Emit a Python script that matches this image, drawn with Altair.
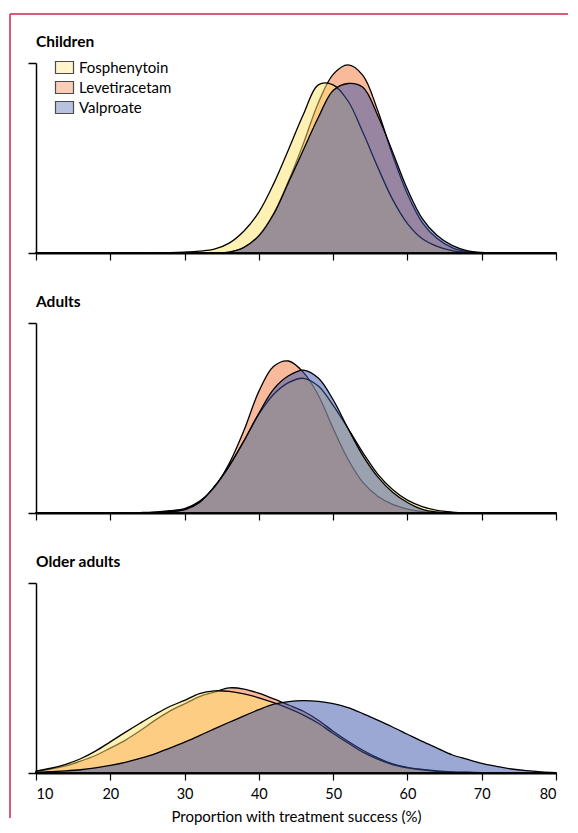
import altair as alt
import pandas as pd

pct = [10, 12, 14, 16, 18, 20, 22, 24, 26, 28, 30, 32, 34, 36, 38, 40, 42, 44,
       46, 48, 50, 52, 54, 56, 58, 60, 62, 64, 66, 68, 70, 72, 74, 76, 78, 80]

drugs = ["Fosphenytoin", "Levetiracetam", "Valproate"]
drug_colors = ["#FFE169", "#F37337", "#3751A9"]
legend_colors = ["#FFF0B4", "#F9B99B", "#9BA8D4"]
draw_order = ["Levetiracetam", "Fosphenytoin", "Valproate"]
panels = ["Children", "Adults", "Older adults"]
x_ticks = [10, 20, 30, 40, 50, 60, 70, 80]
x_title = "Proportion with treatment success (%)"

children_fos = [0, 0, 0, 0, 0, 0, 0, 0, 0.001, 0.002, 0.005, 0.01, 0.02, 0.052, 0.116, 0.215, 0.365, 0.545,
                0.73, 0.885, 0.885, 0.80, 0.635, 0.452, 0.282, 0.155, 0.075, 0.035, 0.012, 0.003, 0.001, 0, 0, 0, 0, 0]
children_lev = [0, 0, 0, 0, 0, 0, 0, 0, 0, 0, 0, 0, 0, 0.005, 0.03, 0.092, 0.209, 0.38,
                0.577, 0.79, 0.94, 0.99, 0.935, 0.75, 0.515, 0.31, 0.16, 0.076, 0.028, 0.007, 0.001, 0, 0, 0, 0, 0]
children_val = [0, 0, 0, 0, 0, 0, 0, 0, 0, 0, 0, 0, 0, 0.005, 0.03, 0.09, 0.205, 0.372,
                0.543, 0.713, 0.855, 0.892, 0.872, 0.724, 0.532, 0.335, 0.181, 0.092, 0.04, 0.013, 0.003, 0, 0, 0, 0, 0]

adults_fos = [0, 0, 0, 0, 0, 0, 0, 0.001, 0.003, 0.007, 0.018, 0.056, 0.138, 0.247, 0.38, 0.52, 0.625, 0.686,
              0.709, 0.668, 0.567, 0.445, 0.318, 0.205, 0.124, 0.068, 0.034, 0.014, 0.005, 0.001, 0, 0, 0, 0, 0, 0]
adults_lev = [0, 0, 0, 0, 0, 0, 0, 0.002, 0.005, 0.012, 0.023, 0.061, 0.133, 0.26, 0.435, 0.64, 0.772, 0.80,
              0.74, 0.62, 0.445, 0.283, 0.161, 0.088, 0.045, 0.021, 0.007, 0.003, 0.001, 0, 0, 0, 0, 0, 0, 0]
adults_val = [0, 0, 0, 0, 0, 0, 0, 0.001, 0.003, 0.007, 0.018, 0.056, 0.138, 0.247, 0.38, 0.525, 0.652, 0.722,
              0.752, 0.71, 0.596, 0.445, 0.302, 0.19, 0.109, 0.055, 0.019, 0.005, 0.001, 0, 0, 0, 0, 0, 0, 0]

older_fos = [0.01, 0.025, 0.046, 0.075, 0.115, 0.164, 0.214, 0.262, 0.308, 0.35, 0.382, 0.418, 0.432, 0.43, 0.417, 0.396, 0.37, 0.34,
             0.305, 0.262, 0.208, 0.158, 0.11, 0.073, 0.044, 0.027, 0.016, 0.009, 0.005, 0.003, 0.001, 0, 0, 0, 0, 0]
older_lev = [0.008, 0.02, 0.037, 0.062, 0.092, 0.131, 0.172, 0.222, 0.277, 0.326, 0.364, 0.402, 0.426, 0.448, 0.442, 0.42, 0.39, 0.358,
             0.325, 0.278, 0.22, 0.167, 0.12, 0.08, 0.048, 0.03, 0.019, 0.011, 0.006, 0.004, 0.002, 0.001, 0, 0, 0, 0]
older_val = [0.003, 0.007, 0.011, 0.017, 0.027, 0.04, 0.056, 0.077, 0.101, 0.131, 0.162, 0.197, 0.232, 0.267, 0.301, 0.333, 0.362, 0.376,
             0.381, 0.377, 0.365, 0.344, 0.313, 0.278, 0.242, 0.204, 0.166, 0.131, 0.096, 0.073, 0.051, 0.035, 0.021, 0.012, 0.006, 0.002]

series = {
    "Children": {"Fosphenytoin": children_fos, "Levetiracetam": children_lev, "Valproate": children_val},
    "Adults": {"Fosphenytoin": adults_fos, "Levetiracetam": adults_lev, "Valproate": adults_val},
    "Older adults": {"Fosphenytoin": older_fos, "Levetiracetam": older_lev, "Valproate": older_val},
}

rows = []
for panel in panels:
    for drug in drugs:
        for p, v in zip(pct, series[panel][drug]):
            rows.append({"panel": panel, "drug": drug, "pct": p, "density": v})
df = pd.DataFrame(rows)

FONT = "Lato"
color_scale = alt.Scale(domain=drugs, range=drug_colors)
x_scale = alt.Scale(domain=[10, 80], nice=False, zero=False)
y_scale = alt.Scale(domain=[0, 1], nice=False)


def panel_chart(panel, bottom):
    x_axis = alt.Axis(values=x_ticks, labels=bottom, tickSize=7, tickWidth=1.2, tickColor="black",
                      domainWidth=2, domainColor="black", grid=False, labelFont=FONT, labelFontSize=14.5,
                      labelColor="black", labelPadding=7, titleFont=FONT, titleFontSize=15,
                      titleFontWeight="normal", titleColor="black", titlePadding=9, zindex=1)
    y_axis = alt.Axis(values=[0, 1], labels=False, tickSize=8, tickWidth=1.5, tickColor="black",
                      domainWidth=1.5, domainColor="black", grid=False, zindex=1)
    layers = []
    for d in draw_order:
        sub = df[(df["panel"] == panel) & (df["drug"] == d)]
        layers.append(
            alt.Chart(sub).mark_area(interpolate="catmull-rom", fillOpacity=0.5, stroke="black",
                                     strokeWidth=1.3, strokeJoin="round").encode(
                x=alt.X("pct:Q", scale=x_scale, axis=x_axis, title=x_title if bottom else None),
                y=alt.Y("density:Q", scale=y_scale, axis=y_axis, title=None),
                color=alt.Color("drug:N", scale=color_scale, legend=None),
            )
        )
    heading = alt.Chart(alt.Data(values=[{"name": panel}])).mark_text(
        align="left", baseline="alphabetic", font=FONT, fontSize=15.5, fontWeight="bold", color="black"
    ).encode(x=alt.value(0), y=alt.value(-16), text="name:N")
    layers.append(heading)
    return layers


legend_df = pd.DataFrame({"entry": drugs, "pct": [10, 10, 10], "density": [0, 0, 0]})
legend_layer = alt.Chart(legend_df).mark_point(size=0, filled=True).encode(
    x=alt.X("pct:Q", scale=x_scale),
    y=alt.Y("density:Q", scale=y_scale),
    fill=alt.Fill("entry:N", scale=alt.Scale(domain=drugs, range=legend_colors),
                  legend=alt.Legend(orient="none", legendX=21, legendY=-3, title=None,
                                    symbolType="M-1.5,-1H1.5V1H-1.5Z", symbolSize=144,
                                    symbolStrokeColor="black", symbolStrokeWidth=1.2,
                                    labelFont=FONT, labelFontSize=15, labelColor="black",
                                    labelOffset=7, rowPadding=3, padding=0)),
)

frame_data = alt.Data(values=[{"k": 1}])
frame_v = alt.Chart(frame_data).mark_rule(color="#C8264E", strokeWidth=1.5).encode(
    x=alt.value(-26), y=alt.value(-49), y2=alt.value(755))
frame_h = alt.Chart(frame_data).mark_rule(color="#C8264E", strokeWidth=1.5).encode(
    x=alt.value(-26), x2=alt.value(532), y=alt.value(-49))

W, H = 520, 190
c1 = alt.layer(frame_v, frame_h, *panel_chart("Children", False), legend_layer).resolve_scale(
    color="independent").properties(width=W, height=H)
c2 = alt.layer(*panel_chart("Adults", False)).properties(width=W, height=H)
c3 = alt.layer(*panel_chart("Older adults", True)).properties(width=W, height=H)

chart = alt.vconcat(c1, c2, c3, spacing=70, bounds="flush").resolve_scale(
    color="independent", fill="independent").properties(
    padding={"left": 1, "top": 5, "right": 0, "bottom": 0}
).configure_view(stroke=None)

chart.save("out.html", embed_options={"renderer": "svg", "actions": False})
